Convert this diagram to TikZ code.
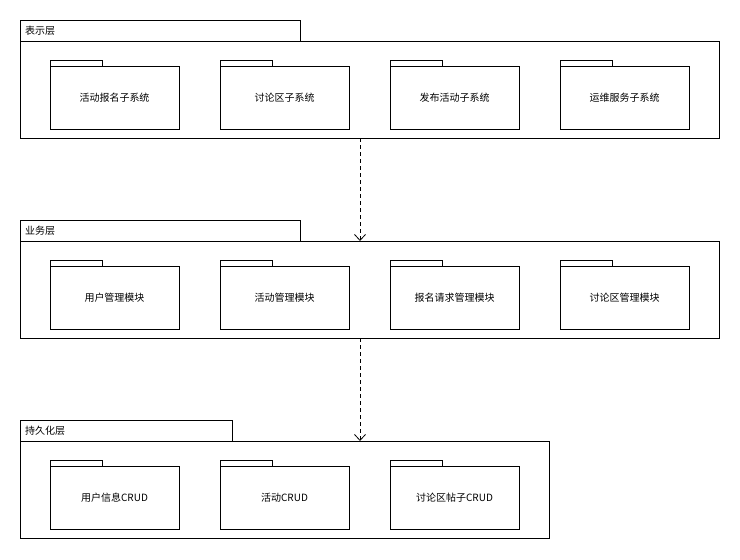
\documentclass[tikz,border=0pt]{standalone}
\usepackage{fontspec}
\setmainfont{Noto Sans CJK SC}
\usetikzlibrary{arrows.meta}
\begin{document}
\begin{tikzpicture}[x=1pt,y=-1pt,
  box/.style={draw=black,line width=0.8pt,fill=white},
  lbl/.style={font=\fontsize{10}{12}\selectfont,inner sep=0pt},
  dep/.style={draw,line width=0.8pt,dash pattern=on 4pt off 3pt,-{Straight Barb[length=6pt,width=11pt]}}]
\useasboundingbox (0,0) rectangle (740,560);
% layers
\newcommand{\layer}[6]{%
  \draw[box] (20,#2) rectangle (#3,#2+21);
  \node[lbl,anchor=west] at (25,#2+11) {#1};
  \draw[box] (20,#2+21) rectangle (#4,#2+118);
  \coordinate (#5top) at (360,#2+21);
  \coordinate (#5bot) at (360,#2+118);}
\newcommand{\pkg}[3]{%
  \draw[box] (#1,#2-6) rectangle (#1+52,#2);
  \draw[box] (#1,#2) rectangle (#1+129,#2+63);
  \node[lbl] at (#1+64.5,#2+32) {#3};}
\layer{表示层}{20}{300}{719}{a}{}
\layer{业务层}{220}{300}{719}{b}{}
\layer{持久化层}{420}{232}{549}{c}{}
\pkg{50}{66}{活动报名子系统}
\pkg{220}{66}{讨论区子系统}
\pkg{390}{66}{发布活动子系统}
\pkg{560}{66}{运维服务子系统}
\pkg{50}{266}{用户管理模块}
\pkg{220}{266}{活动管理模块}
\pkg{390}{266}{报名请求管理模块}
\pkg{560}{266}{讨论区管理模块}
\pkg{50}{466}{用户信息CRUD}
\pkg{220}{466}{活动CRUD}
\pkg{390}{466}{讨论区帖子CRUD}
\draw[dep] (abot) -- (btop);
\draw[dep] (bbot) -- (ctop);
\end{tikzpicture}
\end{document}
